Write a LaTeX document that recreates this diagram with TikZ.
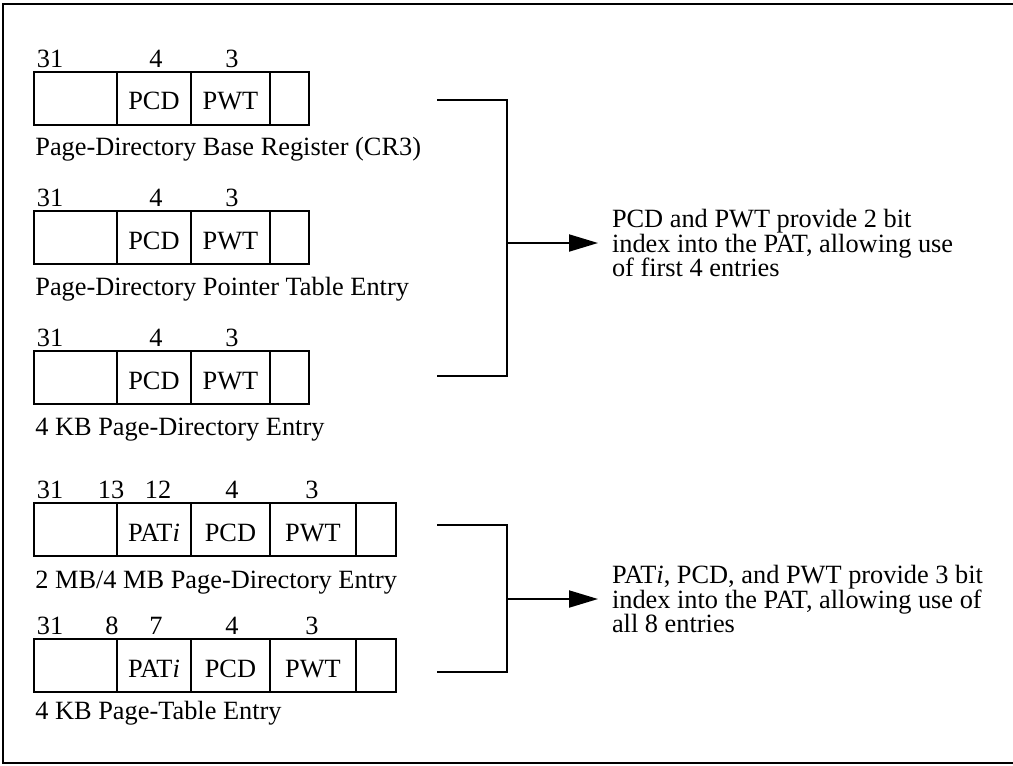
\documentclass[tikz,border=0pt]{standalone}
\usepackage{fontspec}
\setmainfont{Liberation Serif}
\usetikzlibrary{arrows.meta, positioning}

\begin{document}
\begin{tikzpicture}[
				x=0.02cm, y=-0.02cm,
				font=\fontsize{15}{14.2}\selectfont,
				node distance=0pt,
				field/.style={draw, line width=0.8pt, inner sep=0pt, outer sep=0pt, minimum height=1.06cm, text height=0.46cm, text depth=0pt},
				bitnum/.style={anchor=base, inner sep=0pt},
				caption/.style={anchor=base west, inner sep=0pt},
				note/.style={anchor=west, align=left, inner xsep=0.28cm, inner ysep=0pt, outer sep=0pt},
				bracket/.style={line width=1.1pt},
				arrow/.style={-{Triangle[length=0.58cm, width=0.34cm]}, line width=1.1pt}
				]
				\useasboundingbox (0,0) rectangle (1013,765);
				\draw[line width=1.1pt] (3,4) rectangle (1040,763);
				
				% CR3
				\node[field, minimum width=1.66cm, anchor=north west] (a1) at (34,72) {};
				\node[field, minimum width=1.48cm, right=of a1] (a2) {PCD};
				\node[field, minimum width=1.58cm, right=of a2] (a3) {PWT};
				\node[field, minimum width=0.78cm, right=of a3] (a4) {};
				\node[bitnum] (a31) at (50,67) {31};
				\node[bitnum] (a4n) at (156,67) {4};
				\node[bitnum] (a3n) at (232,67) {3};
				\node[caption] (acap) at (35,155) {Page-Directory Base Register (CR3)};
				
				% PDPTE
				\node[field, minimum width=1.66cm, anchor=north west] (b1) at (34,211) {};
				\node[field, minimum width=1.48cm, right=of b1] (b2) {PCD};
				\node[field, minimum width=1.58cm, right=of b2] (b3) {PWT};
				\node[field, minimum width=0.78cm, right=of b3] (b4) {};
				\node[bitnum] (b31) at (50,206) {31};
				\node[bitnum] (b4n) at (156,206) {4};
				\node[bitnum] (b3n) at (232,206) {3};
				\node[caption] (bcap) at (35,295) {Page-Directory Pointer Table Entry};
				
				% 4 KB PDE
				\node[field, minimum width=1.66cm, anchor=north west] (c1) at (34,351) {};
				\node[field, minimum width=1.48cm, right=of c1] (c2) {PCD};
				\node[field, minimum width=1.58cm, right=of c2] (c3) {PWT};
				\node[field, minimum width=0.78cm, right=of c3] (c4) {};
				\node[bitnum] (c31) at (50,346) {31};
				\node[bitnum] (c4n) at (156,346) {4};
				\node[bitnum] (c3n) at (232,346) {3};
				\node[caption] (ccap) at (35,435) {4 KB Page-Directory Entry};
				
				% 2 MB/4 MB PDE
				\node[field, minimum width=1.66cm, anchor=north west] (d1) at (34,503) {};
				\node[field, minimum width=1.48cm, right=of d1] (d2) {PAT\textit{i}};
				\node[field, minimum width=1.58cm, right=of d2] (d3) {PCD};
				\node[field, minimum width=1.72cm, right=of d3] (d4) {PWT};
				\node[field, minimum width=0.80cm, right=of d4] (d5) {};
				\node[bitnum] (d31) at (50,498) {31};
				\node[bitnum] (d13) at (111,498) {13};
				\node[bitnum] (d12) at (158,498) {12};
				\node[bitnum] (d4n) at (232,498) {4};
				\node[bitnum] (d3n) at (312,498) {3};
				\node[caption] (dcap) at (35,588) {2 MB/4 MB Page-Directory Entry};
				
				% 4 KB PTE
				\node[field, minimum width=1.66cm, anchor=north west] (e1) at (34,639) {};
				\node[field, minimum width=1.48cm, right=of e1] (e2) {PAT\textit{i}};
				\node[field, minimum width=1.58cm, right=of e2] (e3) {PCD};
				\node[field, minimum width=1.72cm, right=of e3] (e4) {PWT};
				\node[field, minimum width=0.80cm, right=of e4] (e5) {};
				\node[bitnum] (e31) at (50,634) {31};
				\node[bitnum] (e8) at (112,634) {8};
				\node[bitnum] (e7) at (156,634) {7};
				\node[bitnum] (e4n) at (232,634) {4};
				\node[bitnum] (e3n) at (312,634) {3};
				\node[caption] (ecap) at (35,719) {4 KB Page-Table Entry};
				
				% 说明
				\node[note] (note1) at (598,243) {PCD and PWT provide 2 bit\\index into the PAT, allowing use\\of first 4 entries};
				\node[note] (note2) at (598,599) {PAT\textit{i}, PCD, and PWT provide 3 bit\\index into the PAT, allowing use of\\all 8 entries};
				
				% 括号
				\coordinate (k1top) at (437,100);
				\coordinate (k1bot) at (437,376);
				\coordinate (k1mid) at (507,243);
				\coordinate (k2top) at (437,525);
				\coordinate (k2bot) at (437,672);
				\coordinate (k2mid) at (507,599);
				\draw[bracket] (k1top) -| (507,376) -- (k1bot);
				\draw[bracket] (k2top) -| (507,672) -- (k2bot);
				
				% 连线
				\draw[arrow] (k1mid) -- (note1.west);
				\draw[arrow] (k2mid) -- (note2.west);
				
			\end{tikzpicture}
\end{document}
